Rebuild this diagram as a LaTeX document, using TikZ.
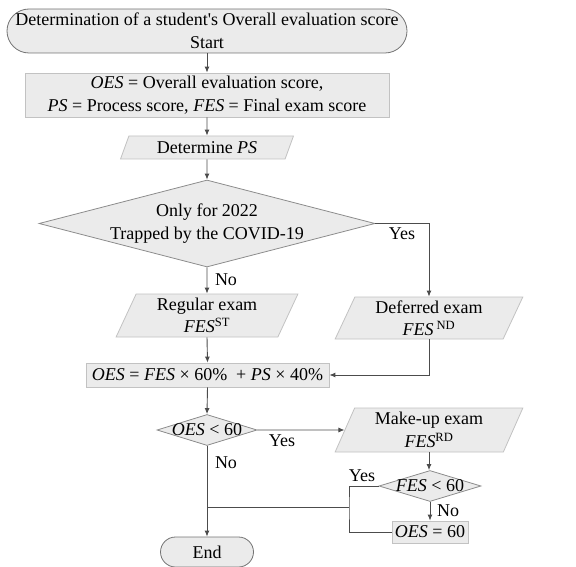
\documentclass[tikz,border=0pt]{standalone}
\usepackage{fontspec}
\setmainfont{Liberation Serif}
\usetikzlibrary{shapes.geometric,arrows.meta}
\definecolor{boxfill}{gray}{0.92}
\definecolor{termline}{gray}{0.45}
\definecolor{boxline}{gray}{0.76}
\definecolor{diamline}{gray}{0.55}
\definecolor{flowline}{gray}{0.3}
\tikzstyle{every node}+=[inner sep=0pt]
\tikzstyle{term}=[draw=termline, fill=boxfill, line width=0.8pt, align=center]
\tikzstyle{proc}=[draw=boxline, fill=boxfill, line width=0.8pt, align=center]
\tikzstyle{io}=[trapezium, trapezium left angle=68, trapezium right angle=112, trapezium stretches=true, draw=boxline, fill=boxfill, line width=0.8pt, align=center]
\tikzstyle{decision}=[diamond, draw=diamline, fill=boxfill, line width=0.8pt]
\tikzstyle{line}=[draw=flowline, line width=0.9pt]
\tikzstyle{flow}=[line, -{Latex[length=6pt,width=5pt]}]

\begin{document}
\begin{tikzpicture}[x=1pt,y=-1pt,font=\fontsize{18}{22.5}\selectfont]
\useasboundingbox (0,0) rectangle (576,567);

% boxes of the chart
\node [term, rounded corners=22pt, minimum width=400pt, minimum height=44pt] (start) at (207,31) {Determination of a student\textquotesingle s Overall evaluation score\\Start};
\node [proc, minimum width=364pt, minimum height=44pt] (defs) at (207,95) {\textit{OES} = Overall evaluation score,\\\textit{PS} = Process score, \textit{FES} = Final exam score};
\node [io, trapezium left angle=66, trapezium right angle=114, minimum width=173pt, minimum height=23pt] (detps) at (207,147.5) {Determine \textit{PS}};
\node [decision, minimum width=336pt, minimum height=87pt] (covid) at (207,223.5) {\makebox[0pt]{\begin{tabular}{@{}c@{}}Only for 2022\\Trapped by the COVID-19\end{tabular}}};
\node [io, minimum width=182pt, minimum height=43pt] (regular) at (207,315.5) {Regular exam\\\textit{FES}\textsuperscript{ST}};
\node [io, minimum width=188pt, minimum height=42pt] (deferred) at (429,318) {Deferred exam\\\textit{FES}\,\textsuperscript{ND}};
\node [proc, minimum width=243pt, minimum height=24pt] (oes) at (207.5,375) {\textit{OES} = \textit{FES} × 60\%\ \ + \textit{PS} × 40\%};
\node [decision, minimum width=100pt, minimum height=31pt] (fail) at (207,430) {\makebox[0pt]{\textit{OES} < 60}};
\node [io, minimum width=188pt, minimum height=44pt] (makeup) at (429,430) {Make-up exam\\\textit{FES}\textsuperscript{RD}};
\node [decision, minimum width=102pt, minimum height=31pt] (refail) at (430,486) {\makebox[0pt]{\textit{FES} < 60}};
\node [proc, minimum width=76pt, minimum height=22pt] (pass) at (430,532) {\textit{OES} = 60};
\node [term, rounded corners=15pt, minimum width=93pt, minimum height=30pt] (end) at (207,552) {End};

% branch labels
\node (yescovid) at (402,234) {Yes};
\node (nocovid) at (226,280) {No};
\node (yesfail) at (282,441) {Yes};
\node (nofail) at (226,463) {No};
\node (yesrefail) at (362,476) {Yes};
\node (norefail) at (448,511) {No};

% connectors
\coordinate (bend) at (349,507);
\coordinate (merge) at (207,507);
\draw [flow] (start.south) -- (defs.north);
\draw [flow] (defs.south) -- (detps.north);
\draw [flow] (detps.south) -- (covid.north);
\draw [flow] (covid.south) -- (regular.north);
\draw [flow] (covid.east) -| (deferred.north);
\draw [flow] (regular.south) -- (oes.north);
\draw [flow] (deferred.south) |- (oes.east);
\draw [flow] (oes.south) -- (fail.north);
\draw [flow] (fail.east) -- (makeup.west);
\draw [flow] (makeup.south) -- (makeup.south |- refail.north);
\draw [flow] (refail.south) -- (pass.north);
\draw [line] (refail.west) -| (bend) |- (pass.west);
\draw [line] (bend) -- (merge);
\draw [flow] (fail.south) -- (end.north);
\end{tikzpicture}
\end{document}
